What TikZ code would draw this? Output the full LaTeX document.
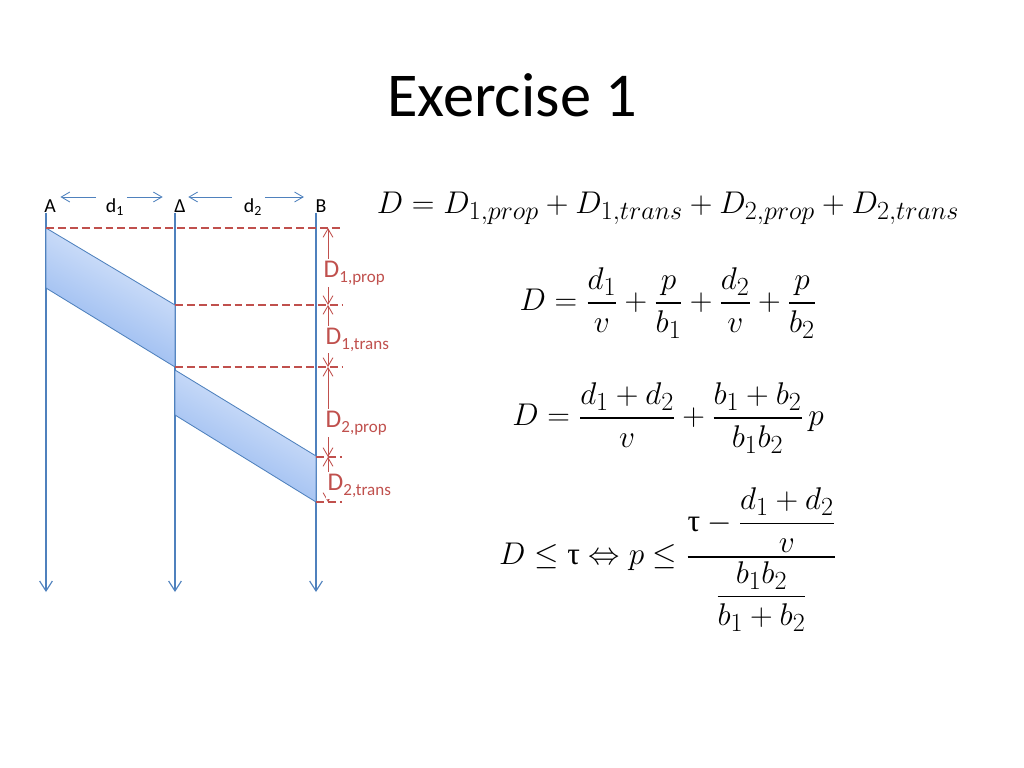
\documentclass[tikz,border=0pt]{standalone}
\usepackage{graphicx}
\usepackage{fontspec}
\usepackage{amsmath}
\setmainfont{Carlito}
\newfontfamily\taufont{Liberation Serif}
\usetikzlibrary{arrows.meta}
\definecolor{tlblue}{RGB}{79,129,189}
\definecolor{dimred}{RGB}{192,80,77}
\definecolor{pkttop}{RGB}{225,235,252}
\definecolor{pktbot}{RGB}{140,178,238}
\tikzset{
 timeline/.style={tlblue, line width=0.8pt, -{Straight Barb[length=7pt,width=9pt]}},
 dist/.style={tlblue, line width=0.6pt, -{Straight Barb[length=6pt,width=7pt]}},
 packet/.style={draw=tlblue, line width=0.6pt, top color=pkttop, bottom color=pktbot, shading angle=-30},
 cut/.style={dimred, line width=1.8pt, dash pattern=on 5.6pt off 2.8pt},
 dim/.style={dimred, line width=0.6pt, {Straight Barb[length=6pt,width=7pt]}-{Straight Barb[length=6pt,width=7pt]}},
 dimlab/.style={dimred, anchor=base west, fill=white, inner sep=1pt, font=\fontsize{18}{20}\selectfont},
 toplab/.style={anchor=base, inner sep=1pt, font=\fontsize{14}{16}\selectfont},
 eqn/.style={font=\fontsize{24.88}{28}\selectfont}
}
\newcommand{\dsub}[1]{\raisebox{-4pt}{\fontsize{12}{14}\selectfont #1}}
\newcommand{\tu}{\text{\taufont τ}}
\newcommand{\eqbox}[1]{\scalebox{0.89}{#1}}
\begin{document}
\begin{tikzpicture}[x=0.0248cm, y=-0.0248cm]
\useasboundingbox (0,0) rectangle (1024,768);
\node[anchor=base, font=\fontsize{44}{50}\selectfont] (title) at (512,117) {Exercise 1};
\node[toplab] (A) at (50,212) {A};
\node[toplab] (d1) at (115,212) {d\textsubscript{1}};
\node[toplab] (M) at (180,212) {Δ};
\node[toplab] (d2) at (253,212) {d\textsubscript{2}};
\node[toplab] (B) at (321,212) {B};
\draw[dist] ([shift={(-8,-15)}]d1.base west) -- ([shift={(3,-15)}]A.base east);
\draw[dist] ([shift={(1,-15)}]d1.base east) -- ([shift={(-10,-15)}]M.base west);
\draw[dist] ([shift={(-10,-15)}]d2.base west) -- ([shift={(1,-15)}]M.base east);
\draw[dist] ([shift={(1,-15)}]d2.base east) -- ([shift={(-10,-15)}]B.base west);
\foreach \x in {46,175,316}
 \draw[timeline] (\x,213) -- (\x,592);
\shadedraw[packet] (46,228) -- (175,305) -- (175,367) -- (46,288) -- cycle;
\shadedraw[packet] (175,370) -- (316,456) -- (316,502) -- (175,415) -- cycle;
\draw[cut] (46,228) -- (342,228);
\foreach \y in {305,367}
 \draw[cut] (175,\y) -- (342,\y);
\foreach \y in {457,502}
 \draw[cut] (316,\y) -- (342,\y);
\foreach \a/\b in {228/305,305/367,367/457,457/502}
 \draw[dim] (328,\a) -- (328,\b);
\node[dimlab] (p1) at (322,277) {D\dsub{1,prop}};
\node[dimlab] (t1) at (324,344) {D\dsub{1,trans}};
\node[dimlab] (p2) at (324,427) {D\dsub{2,prop}};
\node[dimlab] (t2) at (326,490) {D\dsub{2,trans}};
\node[eqn] (e1) at (668,208) {\eqbox{$D = D_{1,prop} + D_{1,trans} + D_{2,prop} + D_{2,trans}$}};
\node[eqn] (e2) at (668,303) {\eqbox{$\displaystyle D = \frac{d_1}{v} + \frac{p}{b_1} + \frac{d_2}{v} + \frac{p}{b_2}$}};
\node[eqn] (e3) at (668,418) {\eqbox{$\displaystyle D = \frac{d_1 + d_2}{v} + \frac{b_1 + b_2}{b_1 b_2}\,p$}};
\node[eqn] (e4) at (668,560) {\eqbox{$\displaystyle D \le \tu \Leftrightarrow p \le \frac{\tu - \dfrac{d_1 + d_2}{v}}{\dfrac{b_1 b_2}{b_1 + b_2}}$}};
\end{tikzpicture}
\end{document}
